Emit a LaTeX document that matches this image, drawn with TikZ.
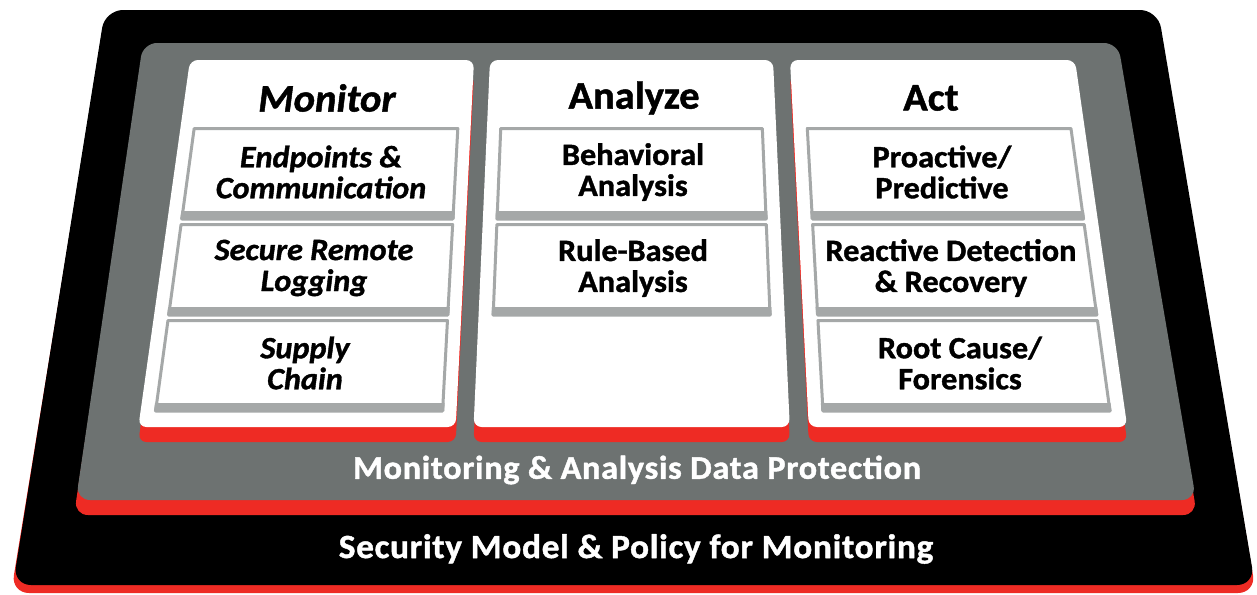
\documentclass[tikz,border=0pt]{standalone}
\usepackage{fontspec}
\setmainfont{Carlito}[BoldFeatures={FakeBold=1.2,FakeStretch=1.04},BoldItalicFeatures={FakeBold=1.2,FakeStretch=1.04}]
\definecolor{grayC}{RGB}{109,114,113}
\definecolor{redC}{RGB}{238,43,36}
\definecolor{lineC}{RGB}{165,168,168}
\newcommand\px[2]{630+(#1-630)*((#2+3066)/3126)}
\newcommand\trap[5]{\path[#1] ({\px{#2}{#4}},#4) -- ({\px{#3}{#4}},#4) -- ({\px{#3}{#5}},#5) -- ({\px{#2}{#5}},#5) -- cycle;}
\newcommand\cellbox[3]{% left u, right u, top y
  \pgfmathsetmacro\bb{#3+92}\pgfmathsetmacro\bt{#3+84}%
  \pgfmathsetmacro\lu{#1+1.5}\pgfmathsetmacro\ru{#2-1.5}\pgfmathsetmacro\tt{#3+1.5}%
  \trap{draw=lineC, line width=1.5pt}{\lu}{\ru}{\tt}{\bb}
  \trap{fill=lineC}{#1}{#2}{\bt}{\bb}}
\tikzset{
  coltitle/.style={font=\fontsize{19.5}{23}\selectfont\bfseries, inner sep=0pt},
  celltext/.style={align=center, font=\fontsize{15.5}{15.5}\selectfont\bfseries, inner sep=0pt},
  monitext/.style={celltext, font=\fontsize{15.5}{15.5}\selectfont\bfseries\itshape},
  basetext/.style={text=white, inner sep=0pt},
}
\begin{document}
\begin{tikzpicture}[x=0.5pt,y=-0.5pt,line join=round]
\useasboundingbox (0,0) rectangle (1257,594);
% outer black layer with red edge
\fill[redC, rounded corners=9pt] (105,18) -- (1158,18) -- (1256,593) -- (11,593) -- cycle;
\fill[black, rounded corners=9pt] (105,10) -- (1158,10) -- (1255,585) -- (13,585) -- cycle;
% gray layer with red edge
\fill[redC, rounded corners=7pt] (143,58) -- (1118,58) -- (1197,515) -- (74,515) -- cycle;
\fill[grayC, rounded corners=7pt] (143,43) -- (1118,43) -- (1196,500) -- (76,500) -- cycle;
% columns
\begin{scope}[yshift=-7.5pt]
\trap{fill=redC, rounded corners=4pt}{190}{474}{60}{427}
\trap{fill=redC, rounded corners=4pt}{490}{773}{60}{427}
\trap{fill=redC, rounded corners=4pt}{790}{1075}{60}{427}
\end{scope}
\trap{fill=white, rounded corners=4pt}{190}{474}{60}{427}
\trap{fill=white, rounded corners=4pt}{490}{773}{60}{427}
\trap{fill=white, rounded corners=4pt}{790}{1075}{60}{427}
% cells
\cellbox{202}{463}{127}
\cellbox{202}{463}{223}
\cellbox{202}{463}{319}
\cellbox{502}{761}{127}
\cellbox{502}{761}{223}
\cellbox{802}{1063}{127}
\cellbox{802}{1063}{223}
\cellbox{802}{1063}{319}
% titles
\node[coltitle, font=\fontsize{19.5}{23}\selectfont\bfseries\itshape] (tmon) at (327,98) {Monitor};
\node[coltitle] (tana) at (634,98) {Analyze};
\node[coltitle] (tact) at (931,98) {Act};
% monitor cells
\node[monitext] (m1) at (321,172) {Endpoints \&\\Communication};
\node[monitext] (m2) at (314,268) {Secure Remote\\Logging};
\node[monitext] (m3) at (305,363) {Supply\\Chain};
% analyze cells
\node[celltext] (a1) at (633,172) {Behavioral\\Analysis};
\node[celltext] (a2) at (633,268) {Rule-Based\\Analysis};
% act cells
\node[celltext] (c1) at (942,172) {Proactive/\\Predictive};
\node[celltext] (c2) at (951,268) {Reactive Detection\\\& Recovery};
\node[celltext] (c3) at (960,363) {Root Cause/\\Forensics};
% base labels
\node[basetext, font=\fontsize{16.5}{18}\selectfont\bfseries\addfontfeatures{LetterSpace=2}] (dp) at (637,470) {Monitoring \& Analysis Data Protection};
\node[basetext, font=\fontsize{17}{19}\selectfont\bfseries\addfontfeatures{LetterSpace=2}] (sm) at (636,549) {Security Model \& Policy for Monitoring};
\end{tikzpicture}
\end{document}
